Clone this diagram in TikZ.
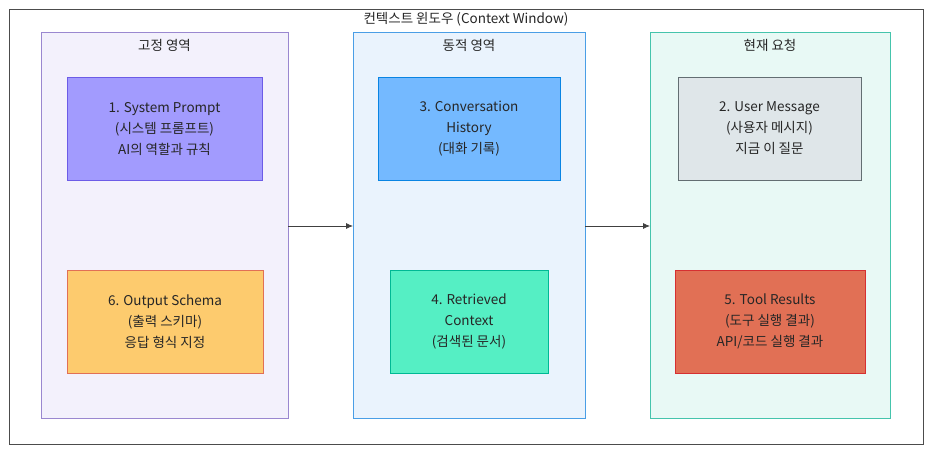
\documentclass[tikz,border=0pt]{standalone}
\usepackage{fontspec}
\setmainfont{Noto Sans CJK KR}
\usetikzlibrary{arrows.meta}
\definecolor{gAf}{HTML}{F3F1FC}\definecolor{gAd}{HTML}{9A88D0}
\definecolor{gBf}{HTML}{EAF3FD}\definecolor{gBd}{HTML}{4A9EE6}
\definecolor{gCf}{HTML}{E8F9F5}\definecolor{gCd}{HTML}{45C4AC}
\definecolor{c1f}{HTML}{A29BFE}\definecolor{c1d}{HTML}{6C5CE7}
\definecolor{c6f}{HTML}{FDCB6E}\definecolor{c6d}{HTML}{E17055}
\definecolor{c3f}{HTML}{74B9FF}\definecolor{c3d}{HTML}{0984E3}
\definecolor{c4f}{HTML}{55EFC4}\definecolor{c4d}{HTML}{00B894}
\definecolor{c2f}{HTML}{DFE6E9}\definecolor{c2d}{HTML}{636E72}
\definecolor{c5f}{HTML}{E17055}\definecolor{c5d}{HTML}{D63031}
\begin{document}
\begin{tikzpicture}[x=1pt,y=-1pt,
 grp/.style={draw=#1d,fill=#1f,line width=0.8pt},
 box/.style={draw=#1d,fill=#1f,line width=0.8pt,align=center,minimum height=103pt,font=\fontsize{13.5}{21}\selectfont,text=black!85},
 lbl/.style={font=\fontsize{13.5}{16}\selectfont,text=black!85},
 conn/.style={draw=black!75,line width=0.8pt,-{Latex[length=7pt,width=6pt]}}]
\useasboundingbox (0,0) rectangle (932,452);
\fill[white] (0,0) rectangle (932,452);
\draw[black!70,line width=0.9pt] (9,9) rectangle (923,444);
\node[lbl] at (466,19) {컨텍스트 윈도우 (Context Window)};
\draw[grp=gA] (41,32) rectangle (288,418);
\draw[grp=gB] (353,32) rectangle (585,418);
\draw[grp=gC] (650,32) rectangle (890,418);
\coordinate (g1r) at (288,226);\coordinate (g2l) at (353,226);
\coordinate (g2r) at (585,226);\coordinate (g3l) at (650,226);
\node[lbl] at (164.5,45) {고정 영역};
\node[lbl] at (469,45) {동적 영역};
\node[lbl] at (770,45) {현재 요청};
\node[box=c1,minimum width=195pt] (b1) at (164.5,128.5) {1. System Prompt\\(시스템 프롬프트)\\AI의 역할과 규칙};
\node[box=c6,minimum width=196pt] (b6) at (165,321.5) {6. Output Schema\\(출력 스키마)\\응답 형식 지정};
\node[box=c3,minimum width=182pt] (b3) at (469,128.5) {3. Conversation\\History\\(대화 기록)};
\node[box=c4,minimum width=158pt] (b4) at (469,321.5) {4. Retrieved\\Context\\(검색된 문서)};
\node[box=c2,minimum width=183pt] (b2) at (769.5,128.5) {2. User Message\\(사용자 메시지)\\지금 이 질문};
\node[box=c5,minimum width=190pt] (b5) at (770,321.5) {5. Tool Results\\(도구 실행 결과)\\API/코드 실행 결과};
\draw[conn] (g1r) -- (g2l);
\draw[conn] (g2r) -- (g3l);
\end{tikzpicture}
\end{document}
